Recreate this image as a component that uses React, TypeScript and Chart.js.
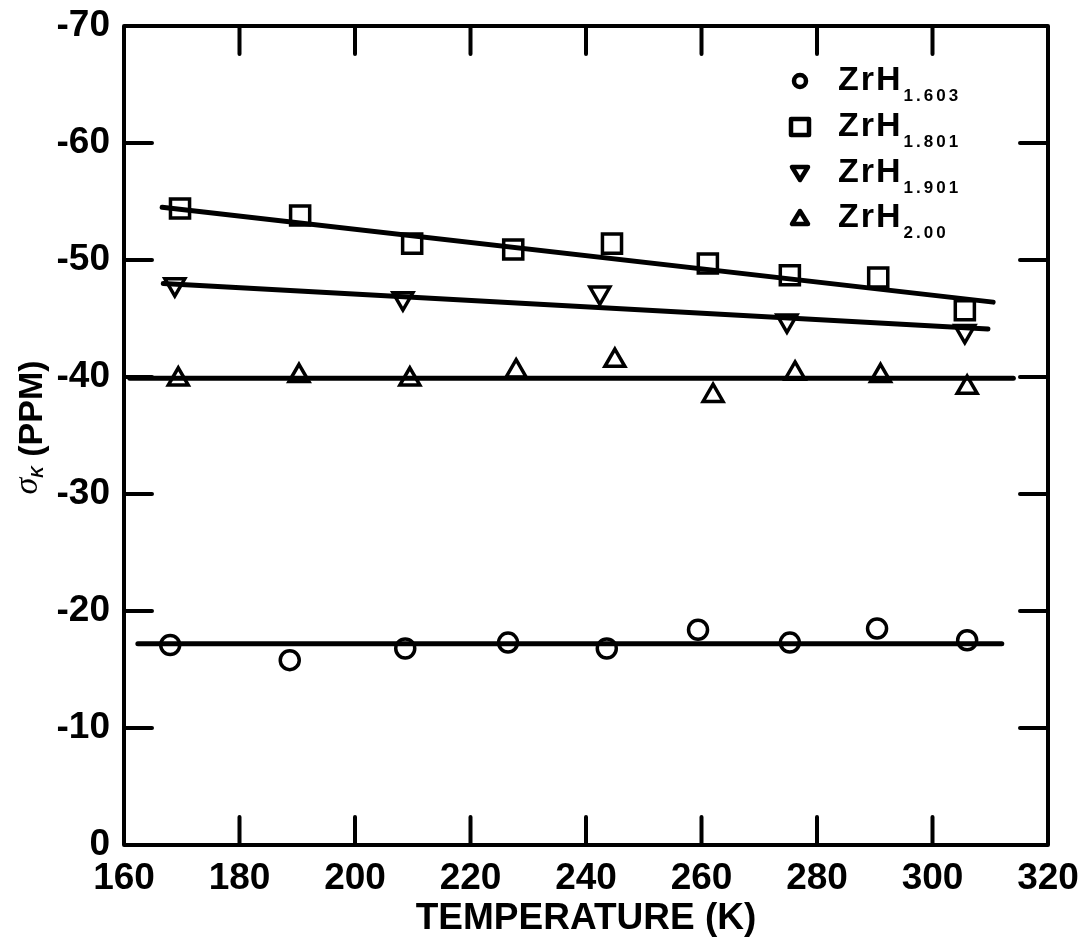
import React, { useEffect, useRef } from "react";
import { Chart, registerables } from "chart.js";

Chart.register(...registerables);

// ---- data (temperature in K, sigma_K in ppm) ----
const tempCircle = [168.0, 188.7, 208.7, 226.5, 243.6, 259.4, 275.3, 290.4, 306.0];
const sigmaCircle = [-17.1, -15.8, -16.8, -17.3, -16.8, -18.4, -17.3, -18.5, -17.5];

const tempSquare = [169.7, 190.5, 209.9, 227.4, 244.5, 261.1, 275.3, 290.6, 305.6];
const sigmaSquare = [-54.4, -53.8, -51.4, -50.9, -51.4, -49.7, -48.7, -48.5, -45.7];

const tempDown = [168.8, 208.3, 242.4, 274.8, 305.6];
const sigmaDown = [-47.9, -46.7, -47.2, -44.8, -43.9];

const tempUp = [169.4, 190.3, 209.5, 227.9, 245.0, 262.0, 276.2, 291.0, 306.0];
const sigmaUp = [-39.8, -40.1, -39.8, -40.5, -41.4, -38.4, -40.3, -40.1, -39.1];

// fitted lines (end points)
const fitCircleT = [162.4, 312.0];
const fitCircleS = [-17.2, -17.2];
const fitSquareT = [166.6, 310.5];
const fitSquareS = [-54.5, -46.4];
const fitDownT = [166.8, 309.6];
const fitDownS = [-48.0, -44.1];
const fitUpT = [161.0, 314.0];
const fitUpS = [-39.9, -39.9];

const legendBase = ["ZrH", "ZrH", "ZrH", "ZrH"];
const legendSub = ["1.603", "1.801", "1.901", "2.00"];
const legendStyle = ["circle", "rect", "down", "up"];

const xTitle = "TEMPERATURE (K)";
const yTitleSymbol = "σ";
const yTitleSub = "K";
const yTitleRest = " (PPM)";

const pts = (xs: number[], ys: number[]) => xs.map((x, i) => ({ x, y: ys[i] }));

const tickFont = {
  family: "'Liberation Sans', Arial, sans-serif",
  size: 37,
  weight: "bold" as const,
};

const framePlugin = {
  id: "frameTicks",
  afterDatasetsDraw(chart: any) {
    const { ctx, chartArea: a, scales } = chart;
    const x = scales.x;
    const y = scales.y;
    ctx.save();
    ctx.strokeStyle = "#000";
    ctx.lineWidth = 4;
    ctx.lineJoin = "round";
    ctx.lineCap = "round";
    ctx.strokeRect(a.left, a.top, a.right - a.left, a.bottom - a.top);
    const L = 28;
    ctx.beginPath();
    x.ticks.forEach((t: any) => {
      if (t.value <= x.min || t.value >= x.max) return;
      const px = x.getPixelForValue(t.value);
      ctx.moveTo(px, a.bottom);
      ctx.lineTo(px, a.bottom - L);
      ctx.moveTo(px, a.top);
      ctx.lineTo(px, a.top + L);
    });
    y.ticks.forEach((t: any) => {
      if (t.value <= y.min || t.value >= y.max) return;
      const py = y.getPixelForValue(t.value);
      ctx.moveTo(a.left, py);
      ctx.lineTo(a.left + L, py);
      ctx.moveTo(a.right, py);
      ctx.lineTo(a.right - L, py);
    });
    ctx.stroke();
    ctx.restore();
  },
};

const yTitlePlugin = {
  id: "yTitle",
  afterDraw(chart: any) {
    const { ctx, chartArea: a } = chart;
    ctx.save();
    ctx.fillStyle = "#000";
    const cy = (a.top + a.bottom) / 2 - 8;
    ctx.translate(42, cy);
    ctx.rotate(-Math.PI / 2);
    ctx.textBaseline = "alphabetic";
    const fSym = "italic 34px 'Liberation Serif', serif";
    const fSub = "italic bold 16px 'Liberation Sans', sans-serif";
    const fRest = "bold 34px 'Liberation Sans', sans-serif";
    ctx.font = fSym;
    const w1 = ctx.measureText(yTitleSymbol).width;
    ctx.font = fSub;
    const w2 = ctx.measureText(yTitleSub).width;
    ctx.font = fRest;
    const w3 = ctx.measureText(yTitleRest).width;
    let u = -(w1 + w2 + w3) / 2;
    ctx.font = fSym;
    ctx.fillText(yTitleSymbol, u, -5);
    u += w1;
    ctx.font = fSub;
    ctx.fillText(yTitleSub, u, 1);
    u += w2;
    ctx.font = fRest;
    ctx.fillText(yTitleRest, u, 0);
    ctx.restore();
  },
};

const legendPlugin = {
  id: "customLegend",
  afterDraw(chart: any) {
    const { ctx } = chart;
    const baselines = [90, 136, 182, 227];
    const mx = 800;
    const tx = 838;
    ctx.save();
    ctx.fillStyle = "#000";
    ctx.strokeStyle = "#000";
    ctx.lineWidth = 4.5;
    ctx.lineJoin = "round";
    legendStyle.forEach((st, i) => {
      const b = baselines[i];
      const my = b - 9;
      ctx.beginPath();
      if (st === "circle") {
        ctx.arc(mx, my, 6, 0, Math.PI * 2);
      } else if (st === "rect") {
        ctx.rect(mx - 9, my - 8, 18, 16);
      } else if (st === "down") {
        ctx.moveTo(mx - 8, my - 6);
        ctx.lineTo(mx + 8, my - 6);
        ctx.lineTo(mx, my + 7);
        ctx.closePath();
      } else {
        ctx.moveTo(mx - 8, my + 6);
        ctx.lineTo(mx + 8, my + 6);
        ctx.lineTo(mx, my - 7);
        ctx.closePath();
      }
      ctx.stroke();
      ctx.textBaseline = "alphabetic";
      ctx.textAlign = "left";
      (ctx as any).letterSpacing = "2px";
      ctx.font = "bold 34px 'Liberation Sans', sans-serif";
      ctx.fillText(legendBase[i], tx, b);
      const w = ctx.measureText(legendBase[i]).width;
      (ctx as any).letterSpacing = "3px";
      ctx.font = "bold 17px 'Liberation Sans', sans-serif";
      ctx.fillText(legendSub[i], tx + w + 1, b + 11);
      (ctx as any).letterSpacing = "0px";
    });
    ctx.restore();
  },
};

export default function App() {
  const canvasRef = useRef<HTMLCanvasElement | null>(null);

  useEffect(() => {
    if (!canvasRef.current) return;
    const markerCommon = {
      showLine: false,
      borderColor: "#000",
      pointBorderColor: "#000",
      pointBackgroundColor: "rgba(0,0,0,0)",
      pointBorderWidth: 3.5,
    };
    const lineCommon = {
      showLine: true,
      borderColor: "#000",
      borderWidth: 5,
      pointRadius: 0,
      borderCapStyle: "round" as const,
    };
    const chart = new Chart(canvasRef.current, {
      type: "scatter",
      data: {
        datasets: [
          { ...lineCommon, label: "fit1", data: pts(fitCircleT, fitCircleS) },
          { ...lineCommon, label: "fit2", data: pts(fitSquareT, fitSquareS) },
          { ...lineCommon, label: "fit3", data: pts(fitDownT, fitDownS) },
          { ...lineCommon, label: "fit4", data: pts(fitUpT, fitUpS) },
          {
            ...markerCommon,
            label: "ZrH1.603",
            data: pts(tempCircle, sigmaCircle),
            pointStyle: "circle",
            pointRadius: 9.5,
          },
          {
            ...markerCommon,
            label: "ZrH1.801",
            data: pts(tempSquare, sigmaSquare),
            pointStyle: "rect",
            pointRadius: 13.5,
          },
          {
            ...markerCommon,
            label: "ZrH1.901",
            data: pts(tempDown, sigmaDown),
            pointStyle: "triangle",
            pointRotation: 180,
            pointRadius: 11.5,
          },
          {
            ...markerCommon,
            label: "ZrH2.00",
            data: pts(tempUp, sigmaUp),
            pointStyle: "triangle",
            pointRadius: 11.5,
          },
        ],
      },
      options: {
        responsive: false,
        maintainAspectRatio: false,
        devicePixelRatio: 1,
        animation: false,
        events: [],
        layout: { padding: { left: 0, right: 30, top: 26, bottom: 0 } },
        plugins: {
          legend: { display: false },
          tooltip: { enabled: false },
        },
        scales: {
          x: {
            type: "linear",
            position: "bottom",
            min: 160,
            max: 320,
            ticks: {
              stepSize: 20,
              font: tickFont,
              color: "#000",
              padding: 12,
              maxRotation: 0,
              autoSkip: false,
            },
            grid: { display: false, drawTicks: false },
            border: { display: false },
            title: {
              display: true,
              text: xTitle,
              color: "#000",
              font: { family: "'Liberation Sans', Arial, sans-serif", size: 37, weight: "bold" },
              padding: { top: 0, bottom: 7 },
            },
            afterFit: (s: any) => {
              s.height = 103;
              s.paddingLeft = 0;
              s.paddingRight = 0;
            },
          },
          y: {
            type: "linear",
            min: -70,
            max: 0,
            reverse: true,
            ticks: {
              stepSize: 10,
              font: tickFont,
              color: "#000",
              padding: 14,
            },
            grid: { display: false, drawTicks: false },
            border: { display: false },
            afterFit: (s: any) => {
              s.width = 124;
              s.paddingTop = 0;
              s.paddingBottom = 0;
            },
          },
        },
      },
      plugins: [framePlugin, yTitlePlugin, legendPlugin],
    });
    return () => chart.destroy();
  }, []);

  return (
    <div
      style={{
        position: "fixed",
        left: 0,
        top: 0,
        width: 1078,
        height: 948,
        background: "#fff",
      }}
    >
      <canvas ref={canvasRef} width={1078} height={948} />
    </div>
  );
}
